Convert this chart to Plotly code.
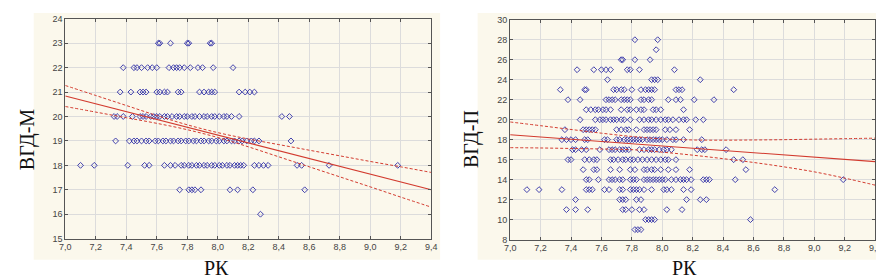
import plotly.graph_objects as go

# ---------------- Left panel: ВГД-М vs РК ----------------
left_y_levels = [23, 22, 21, 20, 19, 18, 17, 16]
left_row_23 = [7.61, 7.62, 7.69, 7.80, 7.81, 7.95, 7.96]
left_row_22 = [7.38, 7.45, 7.47, 7.50, 7.54, 7.57, 7.60, 7.68, 7.71, 7.73, 7.75, 7.78,
               7.82, 7.87, 7.90, 7.97, 8.10]
left_row_21 = [7.36, 7.43, 7.49, 7.51, 7.53, 7.60, 7.62, 7.65, 7.67, 7.74, 7.76,
               7.88, 7.91, 7.94, 7.96, 7.98, 8.14, 8.18, 8.21, 8.24]
left_row_20 = [7.32, 7.34, 7.38, 7.44, 7.49, 7.51, 7.53, 7.56, 7.58, 7.60, 7.62, 7.65, 7.67,
               7.70, 7.73, 7.75, 7.78, 7.80, 7.83, 7.85, 7.88, 7.91, 7.93, 7.96, 7.98,
               8.01, 8.04, 8.06, 8.09, 8.14, 8.42, 8.47]
left_row_19 = [7.33, 7.42, 7.45, 7.47, 7.50, 7.53, 7.55, 7.59, 7.61, 7.64, 7.66, 7.69, 7.71,
               7.74, 7.76, 7.79, 7.81, 7.84, 7.86, 7.89, 7.91, 7.94, 7.96, 7.99, 8.01,
               8.04, 8.06, 8.09, 8.11, 8.14, 8.16, 8.19, 8.22, 8.24, 8.27, 8.48]
left_row_18 = [7.10, 7.19, 7.41, 7.52, 7.55, 7.65, 7.69, 7.72, 7.76, 7.78, 7.81, 7.83,
               7.86, 7.88, 7.91, 7.93, 7.96, 7.98, 8.01, 8.03, 8.06, 8.08, 8.11, 8.13,
               8.15, 8.17, 8.24, 8.27, 8.30, 8.33, 8.52, 8.55, 8.73, 9.18]
left_row_17 = [7.75, 7.81, 7.83, 7.85, 7.89, 8.08, 8.13, 8.23, 8.57]
left_row_16 = [8.28]
left_rows = [left_row_23, left_row_22, left_row_21, left_row_20,
             left_row_19, left_row_18, left_row_17, left_row_16]

# regression line and 95% band
fit_x = [7.0, 7.2, 7.4, 7.6, 7.8, 8.0, 8.2, 8.4, 8.6, 8.8, 9.0, 9.2, 9.4]
left_fit = [20.84, 20.52, 20.20, 19.88, 19.56, 19.24, 18.92, 18.60, 18.28, 17.96, 17.64, 17.32, 17.00]
left_upper = [21.27, 20.86, 20.45, 20.04, 19.66, 19.34, 19.08, 18.85, 18.62, 18.39, 18.16, 17.94, 17.71]
left_lower = [20.41, 20.18, 19.95, 19.72, 19.46, 19.14, 18.76, 18.35, 17.94, 17.53, 17.12, 16.70, 16.29]

# ---------------- Right panel: ВГД-П vs РК ----------------
right_y_levels = [28, 27, 26, 25, 24, 23, 22, 21, 20, 19, 18, 17, 16, 15, 14, 13, 12, 11, 10, 9]
right_row_28 = [7.82, 7.97]
right_row_27 = [7.96]
right_row_26 = [7.73, 7.74, 7.82, 7.92]
right_row_25 = [7.44, 7.55, 7.60, 7.63, 7.66, 7.77, 7.79, 7.85, 8.08]
right_row_24 = [7.64, 7.93, 7.95, 7.97, 8.25]
right_row_23 = [7.33, 7.49, 7.50, 7.68, 7.70, 7.73, 7.75, 7.80, 7.86, 7.89, 7.91, 7.93, 7.95,
                8.09, 8.11, 8.13, 8.47]
right_row_22 = [7.38, 7.46, 7.63, 7.65, 7.67, 7.69, 7.73, 7.75, 7.77, 7.79, 7.86, 7.88,
                7.91, 7.93, 8.04, 8.09, 8.12, 8.21, 8.34]
right_row_21 = [7.50, 7.53, 7.56, 7.58, 7.61, 7.63, 7.66, 7.73, 7.77, 7.79, 7.83, 7.86,
                7.88, 7.94, 7.96, 7.99, 8.14]
right_row_20 = [7.46, 7.56, 7.59, 7.61, 7.63, 7.66, 7.68, 7.70, 7.73, 7.75, 7.79, 7.85,
                7.88, 7.91, 7.93, 7.96, 7.99, 8.02, 8.04, 8.07, 8.11, 8.14, 8.16, 8.22, 8.27]
right_row_19 = [7.36, 7.48, 7.50, 7.52, 7.54, 7.56, 7.70, 7.73, 7.76, 7.78, 7.83, 7.88,
                7.90, 7.92, 7.94, 7.96, 8.02, 8.05, 8.09, 8.18]
right_row_18 = [7.34, 7.37, 7.40, 7.43, 7.49, 7.51, 7.62, 7.64, 7.70, 7.72, 7.75, 7.77,
                7.79, 7.81, 7.83, 7.85, 7.87, 7.90, 7.92, 7.94, 7.96, 7.98, 8.00, 8.03,
                8.07, 8.09, 8.14, 8.26]
right_row_17 = [7.41, 7.43, 7.47, 7.50, 7.59, 7.65, 7.67, 7.69, 7.72, 7.74, 7.76, 7.78,
                7.85, 7.88, 7.91, 7.93, 7.95, 7.98, 8.01, 8.03, 8.06, 8.23, 8.26, 8.28, 8.42]
right_row_16 = [7.38, 7.40, 7.49, 7.52, 7.55, 7.57, 7.66, 7.68, 7.71, 7.74, 7.76, 7.79,
                7.81, 7.84, 7.87, 7.90, 7.93, 7.96, 7.99, 8.02, 8.04, 8.09, 8.47, 8.53]
right_row_15 = [7.48, 7.55, 7.57, 7.66, 7.72, 7.79, 7.82, 7.88, 7.90, 7.93, 7.95, 7.99,
                8.04, 8.09, 8.18, 8.55]
right_row_14 = [7.50, 7.52, 7.58, 7.65, 7.67, 7.69, 7.72, 7.74, 7.79, 7.81, 7.83, 7.88,
                7.90, 7.92, 7.94, 7.96, 7.98, 8.00, 8.02, 8.06, 8.09, 8.12, 8.14, 8.16,
                8.19, 8.27, 8.29, 8.31, 8.48, 9.19]
right_row_13 = [7.11, 7.19, 7.34, 7.50, 7.52, 7.54, 7.62, 7.65, 7.72, 7.74, 7.79, 7.81,
                7.83, 7.85, 7.88, 7.93, 8.01, 8.03, 8.06, 8.14, 8.19, 8.74]
right_row_12 = [7.43, 7.72, 7.74, 7.76, 7.83, 7.86, 8.16, 8.25, 8.29]
right_row_11 = [7.37, 7.43, 7.51, 7.74, 7.76, 7.80, 7.85, 7.88, 8.03, 8.13]
right_row_10 = [7.89, 7.91, 7.93, 7.95, 8.58]
right_row_9 = [7.82, 7.84, 7.86]
right_rows = [right_row_28, right_row_27, right_row_26, right_row_25, right_row_24,
              right_row_23, right_row_22, right_row_21, right_row_20, right_row_19,
              right_row_18, right_row_17, right_row_16, right_row_15, right_row_14,
              right_row_13, right_row_12, right_row_11, right_row_10, right_row_9]

right_fit = [18.50, 18.28, 18.05, 17.83, 17.60, 17.38, 17.15, 16.93, 16.70, 16.48, 16.25, 16.03, 15.80]
right_upper = [19.77, 19.40, 19.02, 18.65, 18.32, 18.08, 17.97, 17.95, 17.97, 18.00, 18.05, 18.10, 18.15]
right_lower = [17.20, 17.17, 17.12, 17.07, 17.00, 16.75, 16.45, 16.10, 15.72, 15.28, 14.78, 14.15, 13.45]

x_title = "РК"
left_y_title = "ВГД-М"
right_y_title = "ВГД-П"


def flatten(levels, rows):
    xs, ys = [], []
    for lvl, row in zip(levels, rows):
        xs.extend(row)
        ys.extend([lvl] * len(row))
    return xs, ys


lx, ly = flatten(left_y_levels, left_rows)
rx, ry = flatten(right_y_levels, right_rows)

W, H = 884, 280
MARK = dict(symbol="diamond-open", size=4.5, color="#2e2ea6", line=dict(width=0.9, color="#2e2ea6"))
RED = "#d23a2e"

fig = go.Figure()

for xs, ys, xa, ya, fit, up, lo in [
    (lx, ly, "x", "y", left_fit, left_upper, left_lower),
    (rx, ry, "x2", "y2", right_fit, right_upper, right_lower),
]:
    fig.add_trace(go.Scatter(x=xs, y=ys, mode="markers", marker=MARK,
                             xaxis=xa, yaxis=ya, showlegend=False, hoverinfo="skip"))
    fig.add_trace(go.Scatter(x=fit_x, y=fit, mode="lines", line=dict(color=RED, width=1.1),
                             xaxis=xa, yaxis=ya, showlegend=False))
    for band in (up, lo):
        fig.add_trace(go.Scatter(x=fit_x, y=band, mode="lines", line_shape="spline",
                                 line=dict(color=RED, width=1, dash="3px,2px"),
                                 xaxis=xa, yaxis=ya, showlegend=False))


def px_x(p):
    return p / W


def px_y(p):
    return 1 - p / H


tickfont = dict(family="Liberation Sans, Arial, sans-serif", size=9, color="#444444")
axis_common = dict(showgrid=True, gridcolor="#dcdcdc", gridwidth=1, zeroline=False,
                   showline=True, linecolor="#555555", linewidth=1, mirror="allticks",
                   ticks="inside", ticklen=3, tickcolor="#555555", tickfont=tickfont)

fig.update_layout(
    width=W, height=H,
    margin=dict(l=0, r=0, t=0, b=0),
    paper_bgcolor="white", plot_bgcolor="white",
    separators=", ",
    xaxis=dict(domain=[px_x(52), px_x(423)], range=[7.0, 9.4], dtick=0.2, tick0=7.0,
               tickformat=".1f", anchor="y", **axis_common),
    yaxis=dict(domain=[px_y(234), px_y(6)], range=[15, 24], dtick=1, anchor="x", **axis_common),
    xaxis2=dict(domain=[px_x(503), px_x(873)], range=[7.0, 9.4], dtick=0.2, tick0=7.0,
                tickformat=".1f", anchor="y2", **axis_common),
    yaxis2=dict(domain=[px_y(235), px_y(7)], range=[8, 30], dtick=2, anchor="x2", **axis_common),
    shapes=[
        dict(type="rect", xref="paper", yref="paper", x0=px_x(20), x1=px_x(432),
             y0=px_y(256), y1=1, fillcolor="#fbf8ec", line_width=0, layer="below"),
        dict(type="rect", xref="paper", yref="paper", x0=px_x(470), x1=px_x(882),
             y0=px_y(256), y1=1, fillcolor="#fbf8ec", line_width=0, layer="below"),
    ],
)

title_font = dict(family="Liberation Serif, Times New Roman, serif", size=20, color="#111111")
for txt, x, y, ang in [(left_y_title, 14, 131, -90), (right_y_title, 464, 131, -90)]:
    fig.add_annotation(text=txt, xref="paper", yref="paper", x=px_x(x), y=px_y(y),
                       xanchor="center", yanchor="middle", textangle=ang,
                       showarrow=False, font=title_font)
for x in (205, 680):
    fig.add_annotation(text=x_title, xref="paper", yref="paper", x=px_x(x), y=px_y(277),
                       xanchor="center", yanchor="bottom", borderpad=0,
                       showarrow=False, font=title_font)

fig.write_html("out.html")
